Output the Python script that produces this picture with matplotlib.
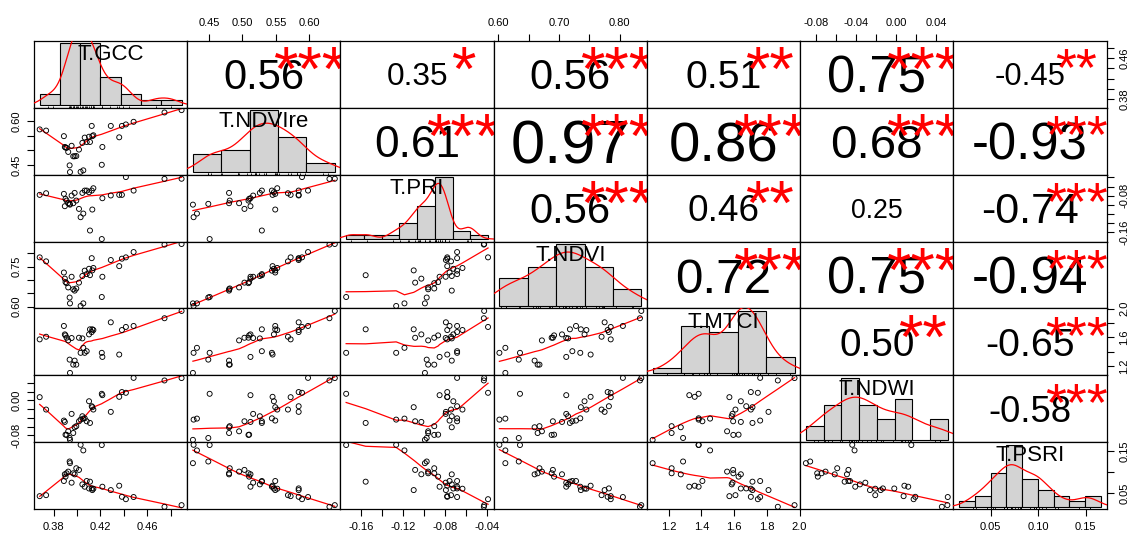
import numpy as np
import matplotlib
matplotlib.use("Agg")
import matplotlib.pyplot as plt
from matplotlib.transforms import offset_copy

plt.rcParams['font.family'] = ['Liberation Sans', 'DejaVu Sans']

# variable names (diagonal labels)
names = ["T.GCC", "T.NDVIre", "T.PRI", "T.NDVI", "T.MTCI", "T.NDWI", "T.PSRI"]

gcc = [0.3681, 0.3736, 0.3888, 0.3896, 0.3902, 0.3911, 0.3925, 0.3937, 0.3940, 0.3954, 0.3968,
       0.3980, 0.3994, 0.4017, 0.4031, 0.4046, 0.4054, 0.4066, 0.4083, 0.4103, 0.4111, 0.4126,
       0.4131, 0.4140, 0.4212, 0.4217, 0.4289, 0.4361, 0.4384, 0.4418, 0.4484, 0.4748, 0.4894]
ndvire = [0.572, 0.568, 0.549, 0.512, 0.510, 0.509, 0.495, 0.449, 0.426, 0.516, 0.480,
          0.480, 0.481, 0.503, 0.427, 0.526, 0.432, 0.544, 0.529, 0.547, 0.529, 0.584,
          0.549, 0.552, 0.451, 0.512, 0.584, 0.545, 0.584, 0.589, 0.598, 0.630, 0.638]
pri = [-0.0782, -0.0746, -0.0760, -0.1029, -0.0869, -0.0906, -0.0964, -0.0978, -0.0995, -0.0797, -0.0964,
       -0.0739, -0.0906, -0.1088, -0.1269, -0.0739, -0.1190, -0.0688, -0.0688, -0.0724, -0.1560, -0.0688,
       -0.1102, -0.0637, -0.1746, -0.0855, -0.0795, -0.0782, -0.0782, -0.0393, -0.0688, -0.0433, -0.0430]
ndvi = [0.785, 0.770, 0.728, 0.705, 0.692, 0.688, 0.672, 0.634, 0.612, 0.712, 0.665,
        0.660, 0.668, 0.690, 0.6022, 0.715, 0.612, 0.735, 0.722, 0.742, 0.718, 0.782,
        0.736, 0.745, 0.636, 0.712, 0.775, 0.752, 0.780, 0.785, 0.805, 0.833, 0.8352]
mtci = [1.571, 1.608, 1.759, 1.641, 1.627, 1.595, 1.557, 1.288, 1.102, 1.590, 1.218,
        1.274, 1.218, 1.594, 1.383, 1.585, 1.453, 1.383, 1.406, 1.641, 1.712, 1.674,
        1.712, 1.702, 1.383, 1.326, 1.810, 1.359, 1.702, 1.745, 1.759, 1.867, 1.969]
ndwi = [0.0073, -0.0210, -0.0462, -0.0493, -0.0784, -0.0790, -0.0707, -0.0860, -0.0903, -0.0309, -0.0746,
        -0.0615, -0.0590, -0.0478, -0.0440, -0.0363, -0.0417, -0.0410, -0.0478, -0.0020, -0.0516, -0.0134,
        -0.0156, -0.0210, 0.0150, 0.0119, -0.0263, 0.0081, 0.0190, 0.0173, 0.0514, 0.0455, 0.0510]
psri = [0.0426, 0.0450, 0.0790, 0.0952, 0.0895, 0.0976, 0.1016, 0.1259, 0.1219, 0.0750, 0.0976,
        0.0950, 0.1097, 0.1057, 0.1660, 0.0709, 0.1526, 0.0653, 0.0790, 0.0610, 0.0774, 0.0612,
        0.0572, 0.0605, 0.1655, 0.0653, 0.0572, 0.0677, 0.0410, 0.0353, 0.0405, 0.0170, 0.0210]

data = [np.array(v) for v in (gcc, ndvire, pri, ndvi, mtci, ndwi, psri)]

# histogram breaks
breaks = [
    [0.36, 0.38, 0.40, 0.42, 0.44, 0.46, 0.48, 0.50],
    [0.40, 0.45, 0.50, 0.55, 0.60, 0.65],
    [-0.18, -0.16, -0.14, -0.12, -0.10, -0.08, -0.06, -0.04, -0.02],
    [0.60, 0.65, 0.70, 0.75, 0.80, 0.85],
    [1.0, 1.2, 1.4, 1.6, 1.8, 2.0],
    [-0.10, -0.08, -0.06, -0.04, -0.02, 0.00, 0.02, 0.04, 0.06],
    [0.00, 0.02, 0.04, 0.06, 0.08, 0.10, 0.12, 0.14, 0.16, 0.18],
]

# axis ticks and which of them carry a label
ticks = [
    [0.38, 0.40, 0.42, 0.44, 0.46, 0.48],
    [0.45, 0.50, 0.55, 0.60],
    [-0.16, -0.14, -0.12, -0.10, -0.08, -0.06, -0.04],
    [0.60, 0.65, 0.70, 0.75, 0.80],
    [1.2, 1.4, 1.6, 1.8, 2.0],
    [-0.08, -0.06, -0.04, -0.02, 0.00, 0.02, 0.04],
    [0.05, 0.10, 0.15],
]
x_lab = [[0.38, 0.42, 0.46], [0.45, 0.50, 0.55, 0.60], [-0.16, -0.12, -0.08, -0.04],
         [0.60, 0.70, 0.80], [1.2, 1.4, 1.6, 1.8, 2.0], [-0.08, -0.04, 0.00, 0.04], [0.05, 0.10, 0.15]]
y_lab = [[0.38, 0.46], [0.45, 0.60], [-0.16, -0.08], [0.60, 0.75], [1.2, 1.6, 2.0], [-0.08, 0.00], [0.05, 0.15]]
decimals = [2, 2, 2, 2, 1, 2, 2]

# upper triangle: correlation and significance
cor_r = [[0.56, 0.35, 0.56, 0.51, 0.75, -0.45],
         [0.61, 0.97, 0.86, 0.68, -0.93],
         [0.56, 0.46, 0.25, -0.74],
         [0.72, 0.75, -0.94],
         [0.50, -0.65],
         [-0.58]]
cor_sig = [["***", "*", "***", "**", "***", "**"],
           ["***", "***", "***", "***", "***"],
           ["***", "**", "", "***"],
           ["***", "***", "***"],
           ["**", "***"],
           ["***"]]


def lowess(x, y, f=2/3, iters=3):
    o = np.argsort(x, kind='stable')
    xs, ys = x[o], y[o]
    n = len(xs)
    r = int(np.ceil(f * n))
    d = np.abs(xs[:, None] - xs[None, :])
    h = np.maximum(np.sort(d, axis=1)[:, r - 1], 1e-12)
    w0 = (1 - np.clip(d / h[:, None], 0, 1) ** 3) ** 3
    rob = np.ones(n)
    fit = np.zeros(n)
    for _ in range(iters + 1):
        for i in range(n):
            w = w0[i] * rob
            sw = w.sum()
            xm = (w * xs).sum() / sw
            ym = (w * ys).sum() / sw
            sxx = (w * (xs - xm) ** 2).sum()
            b = (w * (xs - xm) * (ys - ym)).sum() / sxx if sxx > 0 else 0.0
            fit[i] = ym + b * (xs[i] - xm)
        res = ys - fit
        s = np.median(np.abs(res))
        if s == 0:
            break
        u = np.clip(res / (6 * s), -1, 1)
        rob = (1 - u ** 2) ** 2
    return xs, fit


def density(x):
    n = len(x)
    q75, q25 = np.percentile(x, [75, 25])
    bw = 0.9 * min(np.std(x, ddof=1), (q75 - q25) / 1.34) * n ** -0.2
    g = np.linspace(x.min() - 3 * bw, x.max() + 3 * bw, 512)
    dens = np.exp(-0.5 * ((g[:, None] - x[None, :]) / bw) ** 2).sum(1) / (n * bw * np.sqrt(2 * np.pi))
    return g, dens


def rhist(x, br):
    br = np.array(br)
    idx = np.clip(np.searchsorted(br, x, side='left') - 1, 0, len(br) - 2)
    counts = np.bincount(idx, minlength=len(br) - 1)
    return counts / (len(x) * np.diff(br))


def lims(v):
    lo, hi = v.min(), v.max()
    r = hi - lo
    return lo - 0.04 * r, hi + 0.04 * r


def fmt(v, k):
    return f"{v:.{decimals[k]}f}"


W, H = 1132, 536
x0, cw = 34.0, 153.24
y0, rh = 40.7, 66.94
nv = len(names)

fig = plt.figure(figsize=(W / 100, H / 100), dpi=100)
fig.patch.set_facecolor('white')

# width of "0.56" etc. in em units (Arial metrics)
adv = {'.': 0.278, '-': 0.333}

for i in range(nv):
    for j in range(nv):
        pos = [(x0 + j * cw) / W, 1 - (y0 + (i + 1) * rh) / H, cw / W, rh / H]
        ax = fig.add_axes(pos)
        ax.set_xlim(*lims(data[j]))
        ax.set_ylim(*lims(data[i]))
        for s in ax.spines.values():
            s.set_linewidth(0.9)
            s.set_color('black')
        ax.tick_params(which='both', bottom=False, top=False, left=False, right=False,
                       labelbottom=False, labeltop=False, labelleft=False, labelright=False,
                       direction='out', length=4.7, width=0.8, pad=4.5, labelsize=8)

        # axes on the outer edges, alternating like pairs()
        if i == nv - 1 and j % 2 == 0:
            ax.set_xticks(ticks[j])
            ax.set_xticklabels([fmt(t, j) if round(t, 4) in x_lab[j] else "" for t in ticks[j]])
            ax.tick_params(bottom=True, labelbottom=True)
        if i == 0 and j % 2 == 1:
            ax.set_xticks(ticks[j])
            ax.set_xticklabels([fmt(t, j) if round(t, 4) in x_lab[j] else "" for t in ticks[j]])
            ax.tick_params(top=True, labeltop=True)
        if j == 0 and i % 2 == 1:
            ax.set_yticks(ticks[i])
            ax.set_yticklabels([fmt(t, i) if round(t, 4) in y_lab[i] else "" for t in ticks[i]],
                               rotation=90, va='center')
            ax.tick_params(left=True, labelleft=True)
        if j == nv - 1 and i % 2 == 0:
            ax.set_yticks(ticks[i])
            ax.set_yticklabels([fmt(t, i) if round(t, 4) in y_lab[i] else "" for t in ticks[i]],
                               rotation=90, va='center')
            ax.tick_params(right=True, labelright=True)

        if i > j:
            x, y = data[j], data[i]
            ax.scatter(x, y, s=13, facecolors='none', edgecolors='black', linewidths=0.65, zorder=3)
            lx, ly = lowess(x, y)
            ax.plot(lx, ly, color='red', lw=0.9, zorder=2)
        elif i < j:
            r = cor_r[i][j - i - 1]
            txt = f"{r:.2f}"
            width_em = sum(adv.get(c, 0.556) for c in txt)
            base = 0.8 * cw / width_em * 72 / 100
            fs = base * (abs(r) + 0.3) / 1.3
            ax.text(0.5, 0.5, txt, ha='center', va='baseline', fontsize=fs, color='black',
                    transform=offset_copy(ax.transAxes, fig=fig, y=-0.358 * fs, units='points'))
            sig = cor_sig[i][j - i - 1]
            if sig:
                ax.text(0.8, 0.8, sig, ha='center', va='baseline', fontsize=base, color='red',
                        transform=offset_copy(ax.transAxes, fig=fig, y=-0.573 * base, units='points'))
        else:
            v = data[i]
            br = breaks[i]
            dens_bar = rhist(v, br)
            top = dens_bar.max()
            hx = fig.add_axes(pos)
            hx.patch.set_visible(False)
            hx.axis('off')
            span = br[-1] - br[0]
            hx.set_xlim(br[0] - 0.04 * span, br[-1] + 0.04 * span)
            hx.set_ylim(-0.04 * top, 1.04 * top)
            hx.bar(br[:-1], dens_bar, width=np.diff(br), align='edge', color='#D3D3D3',
                   edgecolor='black', linewidth=0.8)
            g, d = density(v)
            hx.plot(g, d, color='red', lw=0.9)
            hx.vlines(v, -0.04 * top, -0.04 * top + 0.03 * 1.08 * top, color='black', lw=0.6)
            hx.text(0.5, 0.833, names[i], ha='center', va='baseline', fontsize=16,
                    transform=offset_copy(hx.transAxes, fig=fig, y=-0.358 * 16, units='points'))

fig.savefig("out.png", dpi=100)
